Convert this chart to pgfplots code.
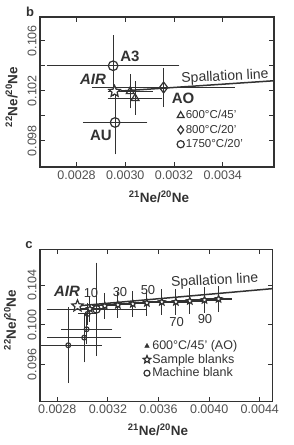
\documentclass[border=0pt]{standalone}
\usepackage{fontspec}
\setmainfont{Liberation Sans}
\usepackage{pgfplots}
\pgfplotsset{compat=1.18}
\usetikzlibrary{plotmarks}
\definecolor{ink}{RGB}{50,50,50}
\definecolor{tk}{RGB}{80,80,80}
\pgfdeclareplotmark{ostar}{%
 \pgfpathmoveto{\pgfpointpolar{90}{\pgfplotmarksize}}%
 \pgfpathlineto{\pgfpointpolar{126}{0.45\pgfplotmarksize}}%
 \pgfpathlineto{\pgfpointpolar{162}{\pgfplotmarksize}}%
 \pgfpathlineto{\pgfpointpolar{198}{0.45\pgfplotmarksize}}%
 \pgfpathlineto{\pgfpointpolar{234}{\pgfplotmarksize}}%
 \pgfpathlineto{\pgfpointpolar{270}{0.45\pgfplotmarksize}}%
 \pgfpathlineto{\pgfpointpolar{306}{\pgfplotmarksize}}%
 \pgfpathlineto{\pgfpointpolar{342}{0.45\pgfplotmarksize}}%
 \pgfpathlineto{\pgfpointpolar{18}{\pgfplotmarksize}}%
 \pgfpathlineto{\pgfpointpolar{54}{0.45\pgfplotmarksize}}%
 \pgfpathclose
 \pgfusepathqfillstroke}
\pgfplotsset{
 panel/.style={scale only axis, anchor=south west,
  axis line style={ink, line width=1.2pt},
  tick style={ink, line width=1.1pt}, major tick length=5pt, tick align=inside,
  xtick pos=both, ytick pos=both, xticklabel pos=lower, yticklabel pos=left,
  scaled x ticks=false, scaled y ticks=false,
  tick label style={font=\fontsize{12.5}{13}\selectfont, text=tk},
  yticklabel style={rotate=90, anchor=south},
  label style={font=\bfseries\fontsize{13.5}{14}\selectfont, text=ink},
  legend cell align=left,
  legend image code/.code={\draw[#1] plot coordinates {(4pt,0pt)};},
 },
 eb/.style={error bars/x dir=both, error bars/x explicit, error bars/y dir=both, error bars/y explicit,
  error bars/error bar style={ink, line width=1.1pt},
  error bars/error mark options={ink, line width=1.1pt, mark size=3pt}},
 mk/.style={only marks, mark options={fill=white, draw=ink, line width=1.2pt, solid}},
}
\begin{document}
\begin{tikzpicture}
\path[use as bounding box] (0,0) rectangle (293pt,445pt);
% ---------------- panel b
\begin{axis}[panel, at={(40pt,278pt)}, width=234pt, height=150pt,
 xmin=0.00265, xmax=0.00361, ymin=0.0959, ymax=0.1079,
 xtick={0.0028,0.0030,0.0032,0.0034}, xticklabels={0.0028,0.0030,0.0032,0.0034},
 ytick={0.098,0.100,0.102,0.104,0.106}, yticklabels={0.098,{},0.102,{},0.106},
 xlabel={\textsuperscript{21}Ne/\textsuperscript{20}Ne},
 ylabel={\textsuperscript{22}Ne/\textsuperscript{20}Ne},
 xlabel style={at={(axis description cs:0.509,-0.2)}, anchor=center},
 ylabel style={at={(axis description cs:-0.121,0.467)}, anchor=center, rotate=0},
 legend style={draw=none, fill=none, at={(0.585,0.387)}, anchor=north west,
  font=\fontsize{11.5}{12}\selectfont, text=ink, inner sep=0pt, row sep=1.5pt, nodes={inner sep=1.5pt}},
]
\addlegendimage{mk, mark=triangle, mark size=4pt}
\addlegendentry{600°C/45'}
\addlegendimage{mk, mark=diamond, mark size=4pt}
\addlegendentry{800°C/20'}
\addlegendimage{mk, mark=o, mark size=3.6pt}
\addlegendentry{1750°C/20'}
\addplot[ink, line width=1.5pt, forget plot] coordinates {(0.00296,0.10195) (0.00361,0.1028)};
\addplot[mk, eb, mark=o, mark size=4.8pt, forget plot] coordinates {
 (0.00295,0.1040) +- (0.00026,0.0022)
 (0.002958,0.09946) +- (0.00012,0.00232)
};
\addplot[mk, eb, mark=diamond, mark size=5.5pt, forget plot] coordinates {
 (0.003157,0.10226) +- (0.00028,0.00133)
};
\addplot[mk, eb, mark=triangle, mark size=4.5pt, forget plot] coordinates {
 (0.00302,0.10195) +- (0.00008,0.00113)
 (0.00304,0.10140) +- (0.00010,0.00110)
};
\addplot[mk, mark=ostar, mark size=6pt, forget plot] coordinates {(0.002956,0.10195)};
\end{axis}
% ---------------- panel c
\begin{axis}[panel, at={(40pt,43.3pt)}, width=232.5pt, height=152.4pt,
 xmin=0.002664, xmax=0.0045, ymin=0.09226, ymax=0.1076,
 xtick={0.0028,0.0032,0.0036,0.0040,0.0044}, xticklabels={0.0028,0.0032,0.0036,0.0040,0.0044},
 ytick={0.096,0.100,0.104}, yticklabels={0.096,0.100,0.104},
 xlabel={\textsuperscript{21}Ne/\textsuperscript{20}Ne},
 ylabel={\textsuperscript{22}Ne/\textsuperscript{20}Ne},
 xlabel style={at={(axis description cs:0.508,-0.186)}, anchor=center},
 ylabel style={at={(axis description cs:-0.129,0.536)}, anchor=center, rotate=0},
 legend style={draw=none, fill=none, at={(0.443,0.411)}, anchor=north west,
  font=\fontsize{12.5}{13}\selectfont, text=ink, inner sep=0pt, row sep=0pt, nodes={inner sep=1.5pt}},
]
\addlegendimage{only marks, mark=triangle*, mark size=2.6pt, mark options={fill=ink, draw=ink}}
\addlegendentry{600°C/45' (AO)}
\addlegendimage{mk, mark=ostar, mark size=4pt}
\addlegendentry{Sample blanks}
\addlegendimage{mk, mark=o, mark size=3pt}
\addlegendentry{Machine blank}
\addplot[ink, line width=1.5pt, forget plot] coordinates {(0.00296,0.1019) (0.0045,0.10364)};
\addplot[mk, eb, mark=o, mark size=2.4pt, forget plot] coordinates {
 (0.00304,0.1011) +- (0.00005,0.0008)
 (0.003032,0.09955) +- (0.00018,0.0012)
 (0.003013,0.09871) +- (0.00027,0.0022)
 (0.002887,0.09794) +- (0.00024,0.0035)
};
\addplot[mk, eb, mark=ostar, mark size=3.6pt, forget plot] coordinates {
 (0.003058,0.1016) +- (0.00008,0.0010)
 (0.003176,0.1019) +- (0.00008,0.0010)
 (0.003279,0.1020) +- (0.00008,0.0010)
 (0.003397,0.1021) +- (0.00008,0.0010)
 (0.003508,0.1022) +- (0.00008,0.0010)
 (0.003626,0.1023) +- (0.00008,0.0010)
 (0.003737,0.1023) +- (0.00008,0.0010)
 (0.003847,0.1024) +- (0.00008,0.0010)
 (0.003963,0.1025) +- (0.00008,0.0010)
 (0.004074,0.1026) +- (0.00008,0.0010)
};
\addplot[mk, eb, mark=o, mark size=3.8pt, forget plot] coordinates {
 (0.00311,0.10156) +- (0.00037,0.0044)
};
\addplot[mk, mark=ostar, mark size=6pt, forget plot] coordinates {(0.00296,0.1019)};
\end{axis}
% ---------------- annotations
\begin{scope}[every node/.style={text=ink, inner sep=0pt}]
\node[font=\bfseries\fontsize{13}{13}\selectfont] at (30pt,433pt) {b};
\node[font=\bfseries\fontsize{15}{15}\selectfont] at (130pt,389pt) {A3};
\node[font=\bfseries\itshape\fontsize{15}{15}\selectfont] at (93pt,366pt) {AIR};
\node[font=\bfseries\fontsize{15}{15}\selectfont] at (183pt,347pt) {AO};
\node[font=\bfseries\fontsize{15}{15}\selectfont] at (101pt,310pt) {AU};
\node[font=\fontsize{14}{14}\selectfont, rotate=3] at (225pt,368pt) {Spallation line};
\node[font=\bfseries\fontsize{13}{13}\selectfont] at (29pt,200pt) {c};
\node[font=\bfseries\itshape\fontsize{15}{15}\selectfont] at (67pt,154pt) {AIR};
\node[font=\fontsize{13}{13}\selectfont] at (91pt,151.7pt) {10};
\node[font=\fontsize{13}{13}\selectfont] at (120pt,153pt) {30};
\node[font=\fontsize{13}{13}\selectfont] at (148pt,155pt) {50};
\node[font=\fontsize{13}{13}\selectfont] at (176.7pt,123.3pt) {70};
\node[font=\fontsize{13}{13}\selectfont] at (205pt,126pt) {90};
\node[font=\fontsize{14}{14}\selectfont, rotate=3] at (214.7pt,164pt) {Spallation line};
\end{scope}
\end{tikzpicture}
\end{document}
